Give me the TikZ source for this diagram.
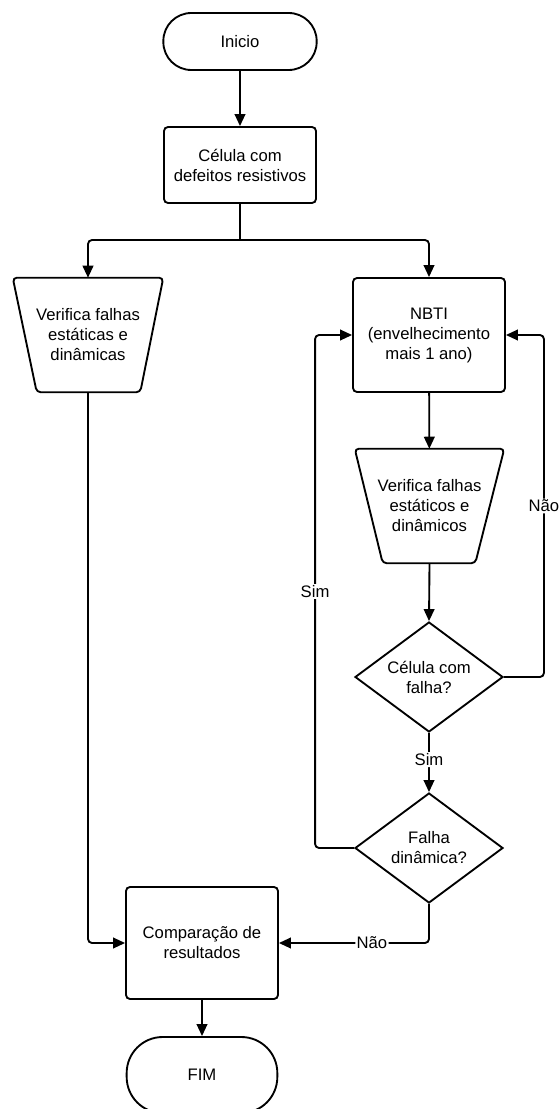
\documentclass[tikz,border=0pt]{standalone}
\usepackage{fontspec}
\setmainfont{Liberation Sans}
\usetikzlibrary{arrows.meta,shapes.geometric,calc}
\begin{document}
\begin{tikzpicture}[x=0.75pt,y=-0.75pt,
  every node/.style={font=\fontsize{12.5}{15}\selectfont, align=center},
  ln/.style={line width=1.4pt, line join=round},
  arr/.style={ln, -{Triangle[length=9pt,width=8pt]}, rounded corners=3pt},
  proc/.style={draw, line width=1.4pt, rectangle, rounded corners=3pt, minimum width=114pt, inner sep=0pt},
  term/.style={draw, line width=1.4pt, rectangle, minimum width=115pt, inner sep=0pt},
  dec/.style={draw, line width=1.4pt, diamond, inner sep=0pt, minimum width=111pt, minimum height=82.5pt, aspect=1.35},
  trapbox/.style={rectangle, inner sep=0pt, minimum height=85.5pt},
  lab/.style={fill=white, inner sep=1pt}]
\useasboundingbox (0,0) rectangle (559,1109);

% nodes
\node[term, rounded corners=21pt, minimum height=42.75pt] (ini) at (240,41.5) {Inicio};
\node[proc, minimum height=57pt] (cel) at (240,165) {Célula com\\defeitos resistivos};
\node[trapbox, minimum width=112.5pt] (v1) at (88,335) {Verifica falhas\\estáticas e\\dinâmicas};
\node[proc, minimum height=85.5pt] (nbti) at (429,335) {NBTI\\(envelhecimento\\mais 1 ano)};
\node[trapbox, minimum width=111.75pt] (v2) at (429.5,506) {Verifica falhas\\estáticos e\\dinâmicos};
\node[dec] (d1) at (429,677) {Célula com\\falha?};
\node[dec] (d2) at (429,848) {Falha\\dinâmica?};
\node[proc, minimum height=84pt] (comp) at (202,943) {Comparação de\\resultados};
\node[term, rounded corners=27pt, minimum height=57pt, minimum width=113pt] (fim) at (202,1075) {FIM};
\coordinate (j) at (240,240);

% trapezoid outlines
\draw[ln, rounded corners=3pt] (v1.north west) -- (v1.north east)
  -- ($(v1.south east)+(-23,0)$) -- ($(v1.south west)+(24,0)$) -- cycle;
\draw[ln, rounded corners=3pt] (v2.north west) -- (v2.north east)
  -- ($(v2.south east)+(-29,0)$) -- ($(v2.south west)+(28,0)$) -- cycle;

% connectors
\draw[arr] (ini) -- (cel);
\draw[ln] (cel.south) -- (j);
\draw[arr] (j) -| (v1.north);
\draw[arr] (j) -| (nbti.north);
\draw[arr] (v1.south) |- (comp.west);
\draw[arr] (nbti) -- (v2);
\draw[arr] (v2.south) -- (d1.north);
\draw[arr] (d1.south) -- node[lab, pos=0.45] {Sim} (d2.north);
\draw[arr] (d1.east) -- ++(40,0) |- node[lab, pos=0.25] {Não} (nbti.east);
\draw[arr] (d2.west) -- ++(-39,0) |- node[lab, pos=0.25] {Sim} (nbti.west);
\draw[arr] (d2.south) |- node[lab, pos=0.69] {Não} (comp.east);
\draw[arr] (comp) -- (fim);
\end{tikzpicture}
\end{document}
